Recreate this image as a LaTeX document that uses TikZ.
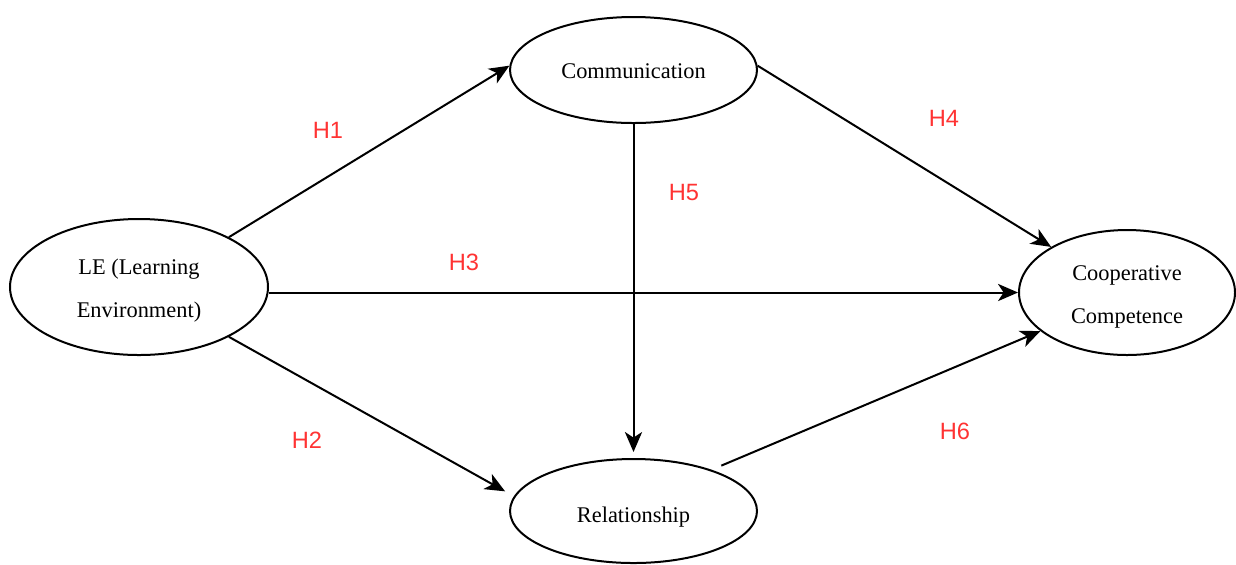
\documentclass[tikz,border=0pt]{standalone}
\usepackage{fontspec}
\setmainfont{Liberation Serif}
\newfontfamily\labelfont{Liberation Sans}
\usetikzlibrary{arrows.meta,shapes.geometric}
\definecolor{hred}{RGB}{255,51,51}
\begin{document}
\begin{tikzpicture}[x=0.5pt,y=-0.5pt,
  latent/.style={draw=black,line width=1pt,ellipse,inner sep=0pt},
  lab/.style={align=center,inner sep=0pt,font=\fontsize{11.2}{21.5}\selectfont},
  path/.style={draw=black,line width=1pt,-{Stealth[length=10pt,width=8.6pt,inset=2.8pt]}},
  hyp/.style={text=hred,font=\labelfont\fontsize{11.8}{13}\selectfont,inner sep=0pt}]
\useasboundingbox (0,0) rectangle (1236,564);
\node[latent,minimum width=129pt,minimum height=68pt,
  label={[lab,yshift=-2pt]center:LE (Learning\\Environment)}] (le) at (139,287) {};
\node[latent,minimum width=123.5pt,minimum height=53pt,
  label={[lab,yshift=-0.6pt]center:Communication}] (comm) at (633.5,70) {};
\node[latent,minimum width=123.5pt,minimum height=52pt,
  label={[lab,yshift=-2.8pt]center:Relationship}] (rel) at (633.5,511) {};
\node[latent,minimum width=108pt,minimum height=62.5pt,
  label={[lab,yshift=-2.4pt]center:Cooperative\\Competence}] (cc) at (1127,292.5) {};
\coordinate (h2end) at ([shift={(-17,4)}]rel.168);
\coordinate (h6start) at ([shift={(10,-4)}]rel.28);
\path[path] (le.29) -- (comm.178);
\path[path] (le.-29) -- (h2end);
\path[path] (cc.west -| le.east) -- (cc.west);
\path[path] (comm.2) -- (cc.149.5);
\path[path,shorten >=3pt] (comm.south) -- (rel.north);
\path[path] (h6start) -- (cc.204);
\node[hyp] (h1) at (328,130) {H1};
\node[hyp] (h2) at (307,440) {H2};
\node[hyp] (h3) at (464,262) {H3};
\node[hyp] (h4) at (944,118) {H4};
\node[hyp] (h5) at (684,192) {H5};
\node[hyp] (h6) at (955,431) {H6};
\end{tikzpicture}
\end{document}
